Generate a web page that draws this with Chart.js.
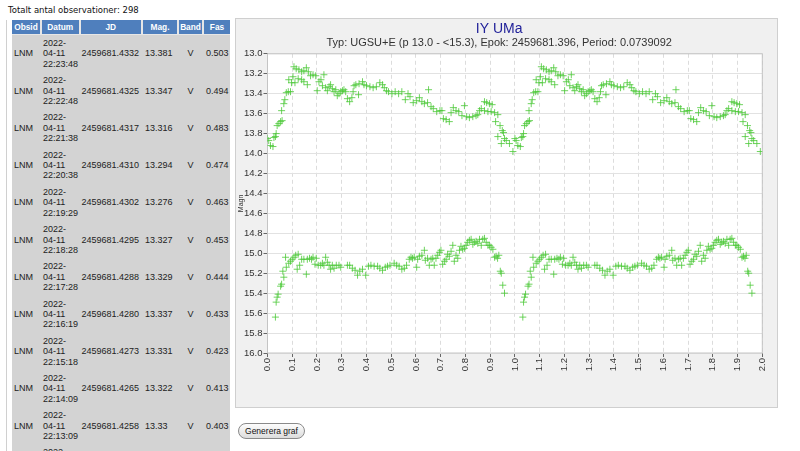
<!DOCTYPE html>
<html>
<head>
<meta charset="utf-8">
<script src="https://cdn.jsdelivr.net/npm/chart.js@4.4.0/dist/chart.umd.min.js"></script>
<style>
body { margin: 0; width: 800px; height: 451px; overflow: hidden; position: relative; background: #fff; font-family: "Liberation Sans", Arial, sans-serif; }
#count { position: absolute; left: 8px; top: 5px; font: 8.5px "DejaVu Sans", sans-serif; color: #111; }
#edge { position: absolute; left: 6px; top: 20px; width: 1px; height: 431px; background: #d0d0d0; }
#obs { position: absolute; left: 12px; top: 20px; width: 218px; table-layout: fixed; border-collapse: collapse; font-size: 9px; color: #222; }
#obs th { background: #4f7fbd; color: #fff; height: 14px; padding: 0; font: bold 8.3px "Liberation Sans", Arial, sans-serif; text-align: center; border-right: 2px solid #e6e6e6; border-bottom: 1px solid #e6e6e6; }
#obs th:last-child { border-right: none; }
#obs td { background: #d3d3d3; padding: 3px 0 3px 2px; line-height: 10.4px; vertical-align: middle; text-align: left; }
#obs td.c { text-align: center; padding-left: 0; }
#panel { position: absolute; left: 235px; top: 18px; width: 541px; height: 388px; border: 1px solid #cfcfcf; background: #f0f0f0; }
#btn { position: absolute; left: 238px; top: 423px; width: 67px; height: 16px; box-sizing: border-box; border: 1px solid #8a8a8a; border-radius: 8px; background: linear-gradient(#fdfdfd, #dcdcdc); font: 8.5px "Liberation Sans", Arial, sans-serif; color: #111; padding: 0; }
</style>
</head>
<body>
<div id="count">Totalt antal observationer: 298</div>
<div id="edge"></div>
<table id="obs">
  <colgroup><col style="width:29px"><col style="width:38.5px"><col style="width:62.5px"><col style="width:36px"><col style="width:25px"><col style="width:27px"></colgroup>
  <thead><tr><th>Obsid</th><th>Datum</th><th>JD</th><th>Mag.</th><th>Band</th><th>Fas</th></tr></thead>
  <tbody id="rows"></tbody>
</table>
<div id="panel"><canvas id="chart" width="541" height="388"></canvas></div>
<button id="btn">Generera graf</button>
<script>
// table rows (newest first)
const obsTimes = ["22:23:48", "22:22:48", "22:21:38", "22:20:38", "22:19:29", "22:18:28", "22:17:28", "22:16:19", "22:15:18", "22:14:09", "22:13:09"];
const obsJD = ["2459681.4332", "2459681.4325", "2459681.4317", "2459681.4310", "2459681.4302", "2459681.4295", "2459681.4288", "2459681.4280", "2459681.4273", "2459681.4265", "2459681.4258"];
const obsMag = ["13.381", "13.347", "13.316", "13.294", "13.276", "13.327", "13.329", "13.337", "13.331", "13.322", "13.33"];
const obsFas = ["0.503", "0.494", "0.483", "0.474", "0.463", "0.453", "0.444", "0.433", "0.423", "0.413", "0.403"];

// light curve, bright part (phase / magnitude)
const brightPhase = [0.000, 0.005, 0.012, 0.022, 0.026, 0.032, 0.035, 0.039, 0.046, 0.053, 0.059, 0.057, 0.066, 0.070, 0.076, 0.084, 0.093, 0.086, 0.103, 0.107,
    0.116, 0.127, 0.138, 0.147, 0.157, 0.165, 0.097, 0.111, 0.124, 0.138, 0.147, 0.161, 0.174, 0.184, 0.195, 0.201, 0.208, 0.216, 0.228, 0.222,
    0.235, 0.242, 0.249, 0.255, 0.262, 0.269, 0.276, 0.282, 0.289, 0.296, 0.303, 0.309, 0.316, 0.323, 0.332, 0.341, 0.346, 0.350, 0.357, 0.368,
    0.370, 0.384, 0.390, 0.400, 0.414, 0.427, 0.440, 0.454, 0.465, 0.472, 0.481, 0.489, 0.503, 0.516, 0.530, 0.543, 0.557, 0.568, 0.576, 0.589,
    0.603, 0.614, 0.624, 0.634, 0.647, 0.651, 0.661, 0.670, 0.684, 0.697, 0.705, 0.711, 0.722, 0.735, 0.742, 0.751, 0.762, 0.773, 0.786, 0.796,
    0.805, 0.816, 0.830, 0.843, 0.850, 0.857, 0.864, 0.877, 0.886, 0.897, 0.908, 0.877, 0.891, 0.904, 0.918, 0.931, 0.922, 0.940, 0.949, 0.954,
    0.931, 0.958, 0.965, 0.945, 0.978, 0.992];
const brightMag = [13.85, 13.87, 13.92, 13.93, 13.84, 13.83, 13.80, 13.72, 13.70, 13.68, 13.67, 13.57, 13.50, 13.46, 13.39, 13.38, 13.38, 13.26, 13.23, 13.13,
    13.15, 13.16, 13.18, 13.17, 13.14, 13.18, 13.29, 13.29, 13.25, 13.26, 13.28, 13.31, 13.22, 13.21, 13.22, 13.37, 13.28, 13.26, 13.21, 13.32,
    13.34, 13.37, 13.33, 13.31, 13.35, 13.38, 13.36, 13.42, 13.40, 13.38, 13.37, 13.36, 13.38, 13.45, 13.48, 13.44, 13.38, 13.32, 13.31, 13.41,
    13.30, 13.28, 13.31, 13.32, 13.33, 13.34, 13.33, 13.29, 13.31, 13.34, 13.37, 13.38, 13.40, 13.38, 13.40, 13.38, 13.46, 13.40, 13.43, 13.49,
    13.47, 13.44, 13.48, 13.50, 13.49, 13.36, 13.53, 13.55, 13.58, 13.57, 13.57, 13.65, 13.66, 13.68, 13.59, 13.54, 13.57, 13.58, 13.62, 13.52,
    13.63, 13.64, 13.63, 13.62, 13.61, 13.57, 13.55, 13.48, 13.49, 13.50, 13.51, 13.57, 13.58, 13.58, 13.59, 13.61, 13.68, 13.72, 13.77, 13.79,
    13.83, 13.85, 13.87, 13.90, 13.90, 13.98];

// light curve, faint part
const faintPhase = [0.032, 0.035, 0.039, 0.043, 0.053, 0.057, 0.066, 0.062, 0.076, 0.073, 0.086, 0.093, 0.100, 0.107, 0.114, 0.124, 0.120, 0.130, 0.138, 0.147,
    0.157, 0.161, 0.170, 0.178, 0.184, 0.192, 0.197, 0.205, 0.215, 0.222, 0.228, 0.235, 0.242, 0.249, 0.255, 0.262, 0.269, 0.278, 0.289, 0.296,
    0.323, 0.332, 0.343, 0.354, 0.364, 0.373, 0.384, 0.397, 0.408, 0.418, 0.431, 0.445, 0.454, 0.465, 0.476, 0.485, 0.495, 0.512, 0.522, 0.532,
    0.543, 0.553, 0.562, 0.573, 0.580, 0.586, 0.593, 0.603, 0.607, 0.614, 0.624, 0.634, 0.638, 0.647, 0.654, 0.661, 0.668, 0.674, 0.681, 0.688,
    0.695, 0.701, 0.708, 0.715, 0.722, 0.728, 0.735, 0.742, 0.749, 0.755, 0.762, 0.769, 0.776, 0.782, 0.789, 0.796, 0.803, 0.809, 0.816, 0.823,
    0.830, 0.836, 0.843, 0.850, 0.857, 0.864, 0.870, 0.877, 0.884, 0.891, 0.897, 0.904, 0.911, 0.918, 0.924, 0.930, 0.935, 0.941, 0.945, 0.951,
    0.958];
const faintMag = [15.64, 15.49, 15.44, 15.41, 15.33, 15.31, 15.24, 15.18, 15.14, 15.04, 15.10, 15.08, 15.06, 15.04, 15.02, 15.01, 15.16, 15.12, 15.06, 15.06,
    15.21, 15.06, 15.05, 15.06, 15.04, 15.11, 15.05, 15.12, 15.12, 15.10, 15.12, 15.04, 15.09, 15.12, 15.16, 15.12, 15.15, 15.12, 15.12, 15.14,
    15.12, 15.12, 15.15, 15.17, 15.22, 15.18, 15.16, 15.22, 15.13, 15.12, 15.13, 15.13, 15.15, 15.17, 15.14, 15.13, 15.12, 15.10, 15.12, 15.13,
    15.16, 15.15, 15.12, 15.06, 15.04, 15.05, 15.04, 15.14, 15.06, 15.03, 15.02, 14.97, 15.07, 15.05, 15.12, 15.06, 15.05, 15.12, 15.05, 15.02,
    14.99, 14.97, 15.11, 15.08, 15.06, 15.01, 15.03, 14.98, 14.92, 15.08, 15.02, 15.05, 14.97, 14.93, 14.96, 14.95, 14.92, 14.89, 14.87, 14.86,
    14.91, 14.89, 14.88, 14.90, 14.86, 14.92, 14.86, 14.85, 14.89, 14.92, 14.92, 14.94, 14.96, 15.04, 15.03, 15.05, 15.02, 15.18, 15.20, 15.32,
    15.40];

const title = "IY UMa";
const subtitle = "Typ: UGSU+E (p 13.0 - <15.3), Epok: 2459681.396, Period: 0.0739092";

// fill the observation table
const tbody = document.getElementById("rows");
for (let i = 0; i < obsTimes.length; i++) {
    const tr = document.createElement("tr");
    tr.innerHTML = "<td>LNM</td><td>2022-<br>04-11<br>" + obsTimes[i] + "</td><td>" + obsJD[i] +
        "</td><td style='padding-left:3px'>" + obsMag[i] + "</td><td class='c'>V</td><td style='padding-left:3px'>" + obsFas[i] + "</td>";
    tbody.appendChild(tr);
}
const last = document.createElement("tr");
last.innerHTML = "<td></td><td>2022-<br>&nbsp;<br>&nbsp;</td><td></td><td></td><td></td><td></td>";
tbody.appendChild(last);

// every point is shown twice, at phase and phase + 1
const points = [];
for (const [ph, mg] of [[brightPhase, brightMag], [faintPhase, faintMag]]) {
    for (let i = 0; i < ph.length; i++) {
        points.push({ x: ph[i], y: mg[i] });
        points.push({ x: ph[i] + 1, y: mg[i] });
    }
}

const plotFrame = {
    id: "plotFrame",
    beforeDraw(chart) {
        const a = chart.chartArea;
        chart.ctx.save();
        chart.ctx.fillStyle = "#fff";
        chart.ctx.fillRect(a.left, a.top, a.right - a.left, a.bottom - a.top);
        chart.ctx.restore();
    },
    beforeDatasetsDraw(chart) {
        const a = chart.chartArea;
        chart.ctx.save();
        chart.ctx.strokeStyle = "#c4c4c4";
        chart.ctx.lineWidth = 1;
        chart.ctx.strokeRect(a.left, a.top, a.right - a.left, a.bottom - a.top);
        chart.ctx.restore();
    }
};

new Chart(document.getElementById("chart"), {
    type: "scatter",
    data: {
        datasets: [{
            data: points,
            pointStyle: "cross",
            pointRadius: 3.5,
            borderWidth: 1,
            borderColor: "rgba(75,200,55,0.8)",
            backgroundColor: "rgba(75,200,55,0.8)"
        }]
    },
    plugins: [plotFrame],
    options: {
        responsive: false,
        animation: false,
        events: [],
        layout: { padding: { left: 0, right: 14.7, top: 0, bottom: 0 } },
        plugins: {
            legend: { display: false },
            tooltip: { enabled: false },
            title: {
                display: true,
                text: title,
                color: "#22229a",
                font: { family: "Liberation Sans", size: 14, weight: "normal", lineHeight: 1.2 },
                padding: { top: 2, bottom: 0 }
            },
            subtitle: {
                display: true,
                text: subtitle,
                color: "#333",
                font: { family: "Liberation Sans", size: 11, lineHeight: 1 },
                padding: { top: 0, bottom: 5 }
            }
        },
        scales: {
            x: {
                type: "linear",
                min: 0,
                max: 2,
                afterFit(scale) { scale.height = 54; },
                border: { display: false, dash: [4, 3] },
                grid: { color: "#dcdcdc", tickColor: "#666", tickLength: 4 },
                ticks: {
                    stepSize: 0.1,
                    minRotation: 90,
                    maxRotation: 90,
                    padding: 1,
                    color: "#333",
                    font: { family: "Liberation Sans", size: 9.5 },
                    callback: v => v.toFixed(1)
                }
            },
            y: {
                min: 13,
                max: 16,
                reverse: true,
                afterFit(scale) { scale.width = 31.5; },
                border: { display: false },
                grid: { color: "#e2e2e2", tickColor: "#666", tickLength: 4 },
                title: {
                    display: true,
                    text: "Magn",
                    color: "#333",
                    font: { family: "Liberation Sans", size: 7 },
                    padding: { top: 1, bottom: 0 }
                },
                ticks: {
                    stepSize: 0.2,
                    padding: 1,
                    color: "#333",
                    font: { family: "Liberation Sans", size: 9.5 },
                    callback: v => v.toFixed(1)
                }
            }
        }
    }
});
</script>
</body>
</html>
